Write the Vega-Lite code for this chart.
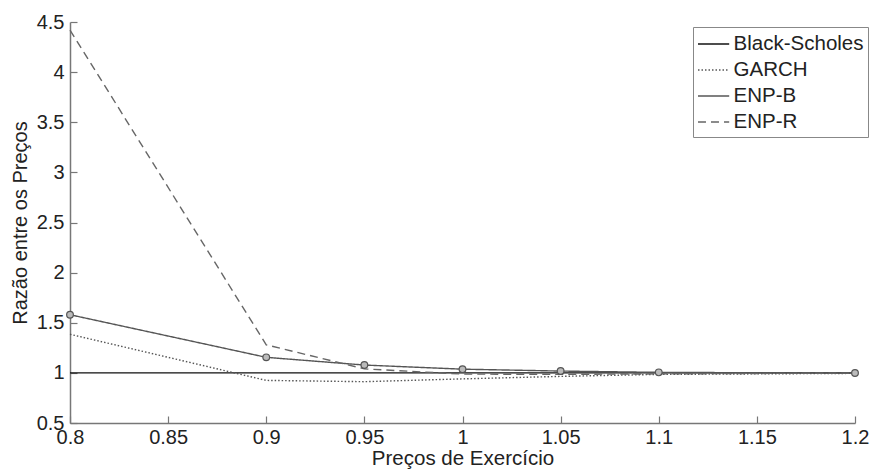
{
  "$schema": "https://vega.github.io/schema/vega-lite/v6.json",
  "width": 785,
  "height": 401,
  "autosize": {"type": "none"},
  "padding": {"left": 70, "top": 22, "right": 17, "bottom": 47},
  "background": "white",
  "config": {
    "view": {"stroke": null},
    "font": "Liberation Sans",
    "axis": {
      "grid": false,
      "domainColor": "#777",
      "domainWidth": 1.5,
      "tickColor": "#777",
      "tickWidth": 1.2,
      "tickSize": -7,
      "labelFont": "Liberation Sans",
      "labelFontSize": 20,
      "labelColor": "#222",
      "titleFont": "Liberation Sans",
      "titleFontSize": 20,
      "titleFontWeight": "normal",
      "titleColor": "#222"
    }
  },
  "data": {
    "values": [
      {"k": 0.8, "s": "Black-Scholes", "v": 1},
      {"k": 0.9, "s": "Black-Scholes", "v": 1},
      {"k": 0.95, "s": "Black-Scholes", "v": 1},
      {"k": 1.0, "s": "Black-Scholes", "v": 1},
      {"k": 1.05, "s": "Black-Scholes", "v": 1},
      {"k": 1.1, "s": "Black-Scholes", "v": 1},
      {"k": 1.2, "s": "Black-Scholes", "v": 1},
      {"k": 0.8, "s": "GARCH", "v": 1.385},
      {"k": 0.9, "s": "GARCH", "v": 0.925},
      {"k": 0.95, "s": "GARCH", "v": 0.912},
      {"k": 1.0, "s": "GARCH", "v": 0.94},
      {"k": 1.05, "s": "GARCH", "v": 0.965},
      {"k": 1.1, "s": "GARCH", "v": 0.985},
      {"k": 1.2, "s": "GARCH", "v": 0.995},
      {"k": 0.8, "s": "ENP-B", "v": 1.58},
      {"k": 0.9, "s": "ENP-B", "v": 1.155},
      {"k": 0.95, "s": "ENP-B", "v": 1.078},
      {"k": 1.0, "s": "ENP-B", "v": 1.037},
      {"k": 1.05, "s": "ENP-B", "v": 1.018},
      {"k": 1.1, "s": "ENP-B", "v": 1.005},
      {"k": 1.2, "s": "ENP-B", "v": 0.998},
      {"k": 0.8, "s": "ENP-R", "v": 4.42},
      {"k": 0.9, "s": "ENP-R", "v": 1.28},
      {"k": 0.95, "s": "ENP-R", "v": 1.04},
      {"k": 1.0, "s": "ENP-R", "v": 0.988},
      {"k": 1.05, "s": "ENP-R", "v": 0.985},
      {"k": 1.1, "s": "ENP-R", "v": 0.99},
      {"k": 1.2, "s": "ENP-R", "v": 0.998}
    ]
  },
  "encoding": {
    "x": {
      "field": "k",
      "type": "quantitative",
      "scale": {"domain": [0.8, 1.2], "nice": false, "zero": false},
      "axis": {
        "title": "Preços de Exercício",
        "titleFontSize": 20.5,
        "values": [0.8, 0.85, 0.9, 0.95, 1, 1.05, 1.1, 1.15, 1.2],
        "format": "~g",
        "labelPadding": 11,
        "titlePadding": 1,
        "labelFlush": false
      }
    },
    "y": {
      "field": "v",
      "type": "quantitative",
      "scale": {"domain": [0.5, 4.5], "nice": false, "zero": false},
      "axis": {
        "title": "Razão entre os Preços",
        "values": [0.5, 1, 1.5, 2, 2.5, 3, 3.5, 4, 4.5],
        "format": "~g",
        "labelPadding": 13,
        "titlePadding": 6
      }
    }
  },
  "layer": [
    {
      "mark": {"type": "line", "strokeWidth": 1.4},
      "encoding": {
        "color": {
          "field": "s",
          "type": "nominal",
          "scale": {
            "domain": ["Black-Scholes", "GARCH", "ENP-B", "ENP-R"],
            "range": ["#111111", "#555555", "#555555", "#666666"]
          },
          "legend": {
            "title": null,
            "orient": "none",
            "legendX": 623,
            "legendY": 5,
            "symbolType": "M-1.3,0H1.3",
            "symbolSize": 576,
            "symbolOffset": 3.6,
            "symbolStrokeWidth": 1.4,
            "labelFont": "Liberation Sans",
            "labelFontSize": 20.5,
            "labelColor": "#222",
            "labelOffset": 7,
            "strokeColor": "#888",
            "fillColor": "white",
            "padding": 4,
            "rowPadding": 2,
            "cornerRadius": 0
          }
        },
        "strokeDash": {
          "field": "s",
          "type": "nominal",
          "scale": {
            "domain": ["Black-Scholes", "GARCH", "ENP-B", "ENP-R"],
            "range": [[1, 0], [1.5, 2], [1, 0], [8, 5]]
          },
          "legend": null
        }
      }
    },
    {
      "transform": [{"filter": "datum.s === 'ENP-B'"}],
      "mark": {"type": "point", "shape": "circle", "size": 45, "filled": true, "fill": "#bbb", "stroke": "#555", "strokeWidth": 1.2, "opacity": 1}
    }
  ]
}
